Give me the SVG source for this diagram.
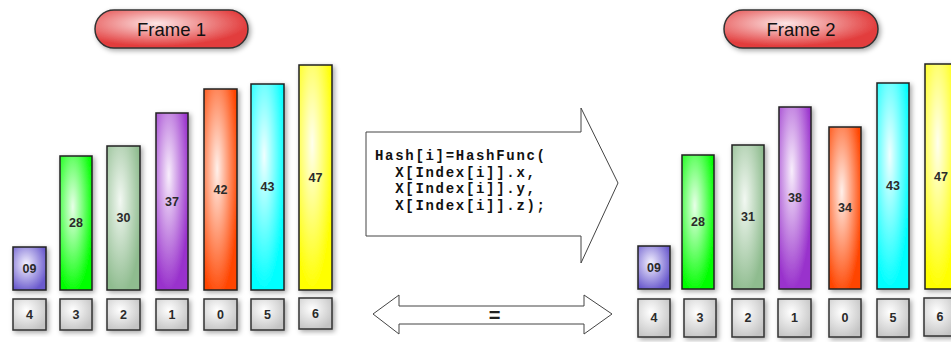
<svg xmlns="http://www.w3.org/2000/svg" width="951" height="342" viewBox="0 0 951 342">
  <defs>
    <filter id="shadow" x="-40%" y="-20%" width="180%" height="140%">
      <feDropShadow dx="2" dy="2" stdDeviation="2.5" flood-color="#000" flood-opacity="0.35"/>
    </filter>
    <radialGradient id="g-slate" cx="0.4" cy="0.4" r="0.65">
      <stop offset="0" stop-color="#f4f2ff"/><stop offset="1" stop-color="#6a5acd"/>
    </radialGradient>
    <radialGradient id="g-green" cx="0.4" cy="0.38" r="0.65">
      <stop offset="0" stop-color="#e8ffe8"/><stop offset="1" stop-color="#00ff00"/>
    </radialGradient>
    <radialGradient id="g-sea" cx="0.4" cy="0.38" r="0.65">
      <stop offset="0" stop-color="#f2f8f2"/><stop offset="1" stop-color="#8fbc8f"/>
    </radialGradient>
    <radialGradient id="g-orchid" cx="0.4" cy="0.35" r="0.65">
      <stop offset="0" stop-color="#f8eefc"/><stop offset="1" stop-color="#9932cc"/>
    </radialGradient>
    <radialGradient id="g-orange" cx="0.4" cy="0.4" r="0.65">
      <stop offset="0" stop-color="#fff0ea"/><stop offset="1" stop-color="#ff4500"/>
    </radialGradient>
    <radialGradient id="g-cyan" cx="0.4" cy="0.35" r="0.65">
      <stop offset="0" stop-color="#f0ffff"/><stop offset="1" stop-color="#00ffff"/>
    </radialGradient>
    <radialGradient id="g-yellow" cx="0.4" cy="0.35" r="0.65">
      <stop offset="0" stop-color="#ffffee"/><stop offset="1" stop-color="#ffff00"/>
    </radialGradient>
    <radialGradient id="g-gray" cx="0.4" cy="0.35" r="0.7">
      <stop offset="0" stop-color="#ffffff"/><stop offset="1" stop-color="#c4c4c4"/>
    </radialGradient>
    <radialGradient id="g-red" cx="0.4" cy="0.35" r="0.6">
      <stop offset="0" stop-color="#fde6e6"/><stop offset="1" stop-color="#e23d3d"/>
    </radialGradient>
    <style>
      .bar { stroke: #222; stroke-width: 1.5; filter: url(#shadow); }
      .idx { fill: url(#g-gray); stroke: #333; stroke-width: 1.5; filter: url(#shadow); }
      .pill { fill: url(#g-red); stroke: #333; stroke-width: 1.5; filter: url(#shadow); }
      .num { font-family: "Liberation Sans", Arial, sans-serif; font-size: 12.5px; font-weight: bold; fill: #2a2a2a; text-anchor: middle; dominant-baseline: central; }
      .title { font-family: "Liberation Sans", Arial, sans-serif; font-size: 18.5px; fill: #111; text-anchor: middle; dominant-baseline: central; }
      .code { font-family: "Liberation Mono", "Courier New", monospace; font-size: 14px; letter-spacing: 1.7px; font-weight: bold; fill: #111; }
      .arrow { fill: #fff; stroke: #444; stroke-width: 1; }
    </style>
  </defs>
  <rect width="951" height="342" fill="#fff"/>

  <!-- Frame 1 -->
  <g id="frame1-title">
    <rect class="pill" x="95" y="10" width="153" height="38" rx="19"/>
    <text class="title" x="171.5" y="29.5">Frame 1</text>
  </g>
  <g id="f1-bar-09"><rect class="bar" fill="url(#g-slate)" x="13" y="247" width="33" height="43"/><text class="num" x="29.5" y="268.5">09</text></g>
  <g id="f1-bar-28"><rect class="bar" fill="url(#g-green)" x="60" y="156" width="32" height="134"/><text class="num" x="76" y="223">28</text></g>
  <g id="f1-bar-30"><rect class="bar" fill="url(#g-sea)" x="107" y="146" width="33" height="144"/><text class="num" x="123.5" y="218">30</text></g>
  <g id="f1-bar-37"><rect class="bar" fill="url(#g-orchid)" x="156" y="113" width="32" height="177"/><text class="num" x="172" y="201.5">37</text></g>
  <g id="f1-bar-42"><rect class="bar" fill="url(#g-orange)" x="204" y="89" width="33" height="201"/><text class="num" x="220.5" y="189.5">42</text></g>
  <g id="f1-bar-43"><rect class="bar" fill="url(#g-cyan)" x="251" y="84" width="33" height="206"/><text class="num" x="267.5" y="187">43</text></g>
  <g id="f1-bar-47"><rect class="bar" fill="url(#g-yellow)" x="299" y="65" width="33" height="225"/><text class="num" x="315.5" y="177.5">47</text></g>

  <g id="f1-idx-4"><rect class="idx" x="13" y="299" width="33" height="31"/><text class="num" x="29.5" y="315">4</text></g>
  <g id="f1-idx-3"><rect class="idx" x="60" y="299" width="32" height="31"/><text class="num" x="76" y="315">3</text></g>
  <g id="f1-idx-2"><rect class="idx" x="107" y="299" width="33" height="31"/><text class="num" x="123.5" y="315">2</text></g>
  <g id="f1-idx-1"><rect class="idx" x="156" y="299" width="32" height="31"/><text class="num" x="172" y="315">1</text></g>
  <g id="f1-idx-0"><rect class="idx" x="204" y="299" width="33" height="31"/><text class="num" x="220.5" y="315">0</text></g>
  <g id="f1-idx-5"><rect class="idx" x="251" y="299" width="33" height="31"/><text class="num" x="267.5" y="315">5</text></g>
  <g id="f1-idx-6"><rect class="idx" x="299" y="298" width="33" height="31"/><text class="num" x="315.5" y="314">6</text></g>

  <!-- Frame 2 -->
  <g id="frame2-title">
    <rect class="pill" x="724" y="10" width="154" height="38" rx="19"/>
    <text class="title" x="801" y="29.5">Frame 2</text>
  </g>
  <g id="f2-bar-09"><rect class="bar" fill="url(#g-slate)" x="638" y="246" width="32" height="43"/><text class="num" x="654" y="267.5">09</text></g>
  <g id="f2-bar-28"><rect class="bar" fill="url(#g-green)" x="682" y="155" width="32" height="134"/><text class="num" x="698" y="222">28</text></g>
  <g id="f2-bar-31"><rect class="bar" fill="url(#g-sea)" x="732" y="145" width="32" height="144"/><text class="num" x="748" y="217">31</text></g>
  <g id="f2-bar-38"><rect class="bar" fill="url(#g-orchid)" x="779" y="107" width="32" height="182"/><text class="num" x="795" y="198">38</text></g>
  <g id="f2-bar-34"><rect class="bar" fill="url(#g-orange)" x="829" y="127" width="32" height="162"/><text class="num" x="845" y="208">34</text></g>
  <g id="f2-bar-43"><rect class="bar" fill="url(#g-cyan)" x="877" y="83" width="32" height="206"/><text class="num" x="893" y="186">43</text></g>
  <g id="f2-bar-47"><rect class="bar" fill="url(#g-yellow)" x="925" y="64" width="32" height="225"/><text class="num" x="941" y="176.5">47</text></g>

  <g id="f2-idx-4"><rect class="idx" x="638" y="299" width="32" height="38"/><text class="num" x="654" y="318">4</text></g>
  <g id="f2-idx-3"><rect class="idx" x="684" y="299" width="32" height="38"/><text class="num" x="700" y="318">3</text></g>
  <g id="f2-idx-2"><rect class="idx" x="732" y="299" width="32" height="38"/><text class="num" x="748" y="318">2</text></g>
  <g id="f2-idx-1"><rect class="idx" x="778" y="299" width="33" height="38"/><text class="num" x="794.5" y="318">1</text></g>
  <g id="f2-idx-0"><rect class="idx" x="829" y="299" width="32" height="38"/><text class="num" x="845" y="318">0</text></g>
  <g id="f2-idx-5"><rect class="idx" x="877" y="299" width="32" height="38"/><text class="num" x="893" y="318">5</text></g>
  <g id="f2-idx-6"><rect class="idx" x="924" y="298" width="32" height="38"/><text class="num" x="940" y="317">6</text></g>

  <!-- Transition arrows between the frames -->
  <g id="connectors">
    <g id="hash-arrow">
      <polygon class="arrow" points="366,132 581,132 581,108 618,183 581,263 581,236 366,236"/>
      <text class="code" xml:space="preserve"><tspan x="375" y="160">Hash[i]=HashFunc(</tspan><tspan x="375" y="176.5">  X[Index[i]].x,</tspan><tspan x="375" y="193">  X[Index[i]].y,</tspan><tspan x="375" y="209.5">  X[Index[i]].z);</tspan></text>
    </g>
    <g id="equal-arrow">
      <polygon class="arrow" points="373,314 399,295 399,306 584,306 584,295 612,314 584,334 584,324 399,324 399,334"/>
      <text x="494.5" y="315" style="font-family:'Liberation Sans',Arial,sans-serif;font-size:20px;font-weight:bold;fill:#222;text-anchor:middle;dominant-baseline:central">=</text>
    </g>
  </g>
</svg>
